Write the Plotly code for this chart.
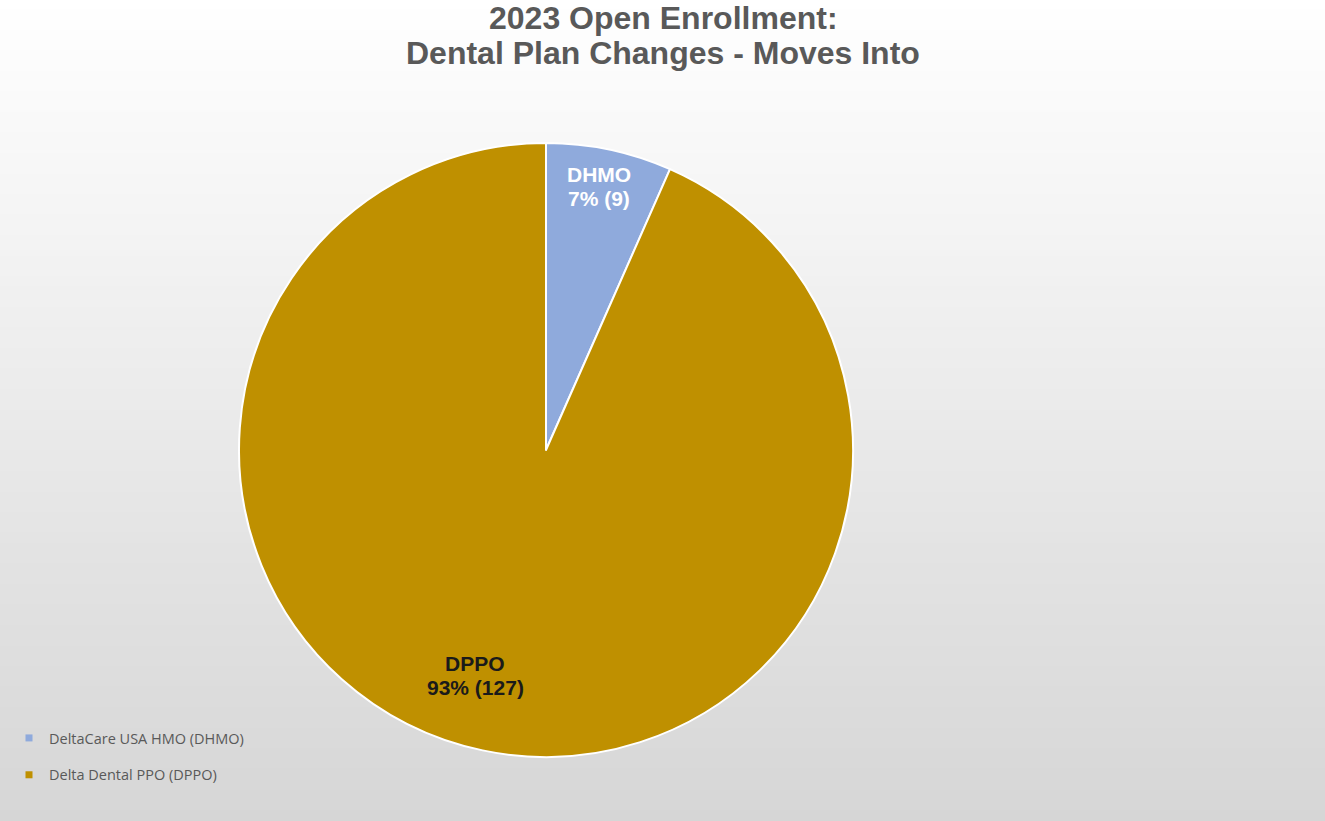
import math
import plotly.graph_objects as go

# Plan enrollment moves
plan_names = ["DeltaCare USA HMO (DHMO)", "Delta Dental PPO (DPPO)"]
short_names = ["DHMO", "DPPO"]
moves = [9, 127]
slice_colors = ["#8FAADC", "#BF9000"]
label_colors = ["#FFFFFF", "#1A1A1A"]
label_radius = [0.875, 0.77]   # fraction of radius where each slice label sits
label_turn = [-0.5, 5.5]       # degrees added to each slice's bisector for its label
title_lines = ["2023 Open Enrollment:", "Dental Plan Changes - Moves Into"]

W, H = 1325, 821
pie_x = [239 / W, 853 / W]
pie_y = [(H - 757) / H, (H - 143) / H]

fig = go.Figure()

fig.add_trace(go.Pie(
    labels=plan_names,
    values=moves,
    sort=False,
    direction="clockwise",
    rotation=0,
    marker=dict(colors=slice_colors, line=dict(color="#FFFFFF", width=2)),
    textinfo="none",
    hoverinfo="label+value+percent",
    showlegend=False,
    domain=dict(x=pie_x, y=pie_y),
))

# Legend entries as square markers in separate groups for spacing
for name, col in zip(plan_names, slice_colors):
    fig.add_trace(go.Scatter(
        x=[None], y=[None], mode="markers", name=name,
        legendgroup=name,
        marker=dict(symbol="square", size=7, color=col),
    ))

# Slice labels placed along each slice's bisector, two lines each
total = sum(moves)
cx_px = (pie_x[0] + pie_x[1]) / 2 * W
cy_px = H - (pie_y[0] + pie_y[1]) / 2 * H
r_px = (pie_x[1] - pie_x[0]) * W / 2
line_gap = 24
start = 0.0
for name, v, col, rf, turn in zip(short_names, moves, label_colors, label_radius, label_turn):
    frac = v / total
    mid = (start + frac / 2) * 2 * math.pi + math.radians(turn)
    start += frac
    px = cx_px + rf * r_px * math.sin(mid)
    py = cy_px - rf * r_px * math.cos(mid)
    for k, txt in enumerate([name, f"{round(frac * 100)}% ({v})"]):
        ly = py + (k - 0.5) * line_gap
        fig.add_annotation(
            x=px / W, y=1 - ly / H, xref="paper", yref="paper",
            xanchor="center", yanchor="middle",
            text=f"<b>{txt}</b>", showarrow=False,
            font=dict(family="Liberation Sans, Arial", size=21, color=col),
        )

# Two-line chart title
for k, txt in enumerate(title_lines):
    fig.add_annotation(
        x=663 / W, y=1 - (18 + 35 * k) / H, xref="paper", yref="paper",
        xanchor="center", yanchor="middle",
        text=f"<b>{txt}</b>", showarrow=False,
        font=dict(family="Liberation Sans, Arial", size=32, color="#595959"),
    )

# Vertical white-to-gray background gradient
n = 80
shapes = []
for i in range(n):
    t = i / (n - 1)
    g = round(255 - (255 - 214) * t)
    shapes.append(dict(
        type="rect", xref="paper", yref="paper",
        x0=0, x1=1, y0=1 - (i + 1) / n, y1=1 - i / n + 0.001,
        fillcolor=f"rgb({g},{g},{g})", line=dict(width=0), layer="below",
    ))

fig.update_layout(
    width=W, height=H,
    margin=dict(l=0, r=0, t=0, b=0),
    paper_bgcolor="#FFFFFF",
    plot_bgcolor="rgba(0,0,0,0)",
    shapes=shapes,
    xaxis=dict(visible=False),
    yaxis=dict(visible=False),
    legend=dict(
        x=9 / W, xanchor="left", y=1 - 722 / H, yanchor="top",
        bgcolor="rgba(0,0,0,0)",
        font=dict(family="Open Sans, Liberation Sans", size=14.5, color="#595959"),
        tracegroupgap=15, itemwidth=30,
    ),
)

fig.write_html("out.html")
